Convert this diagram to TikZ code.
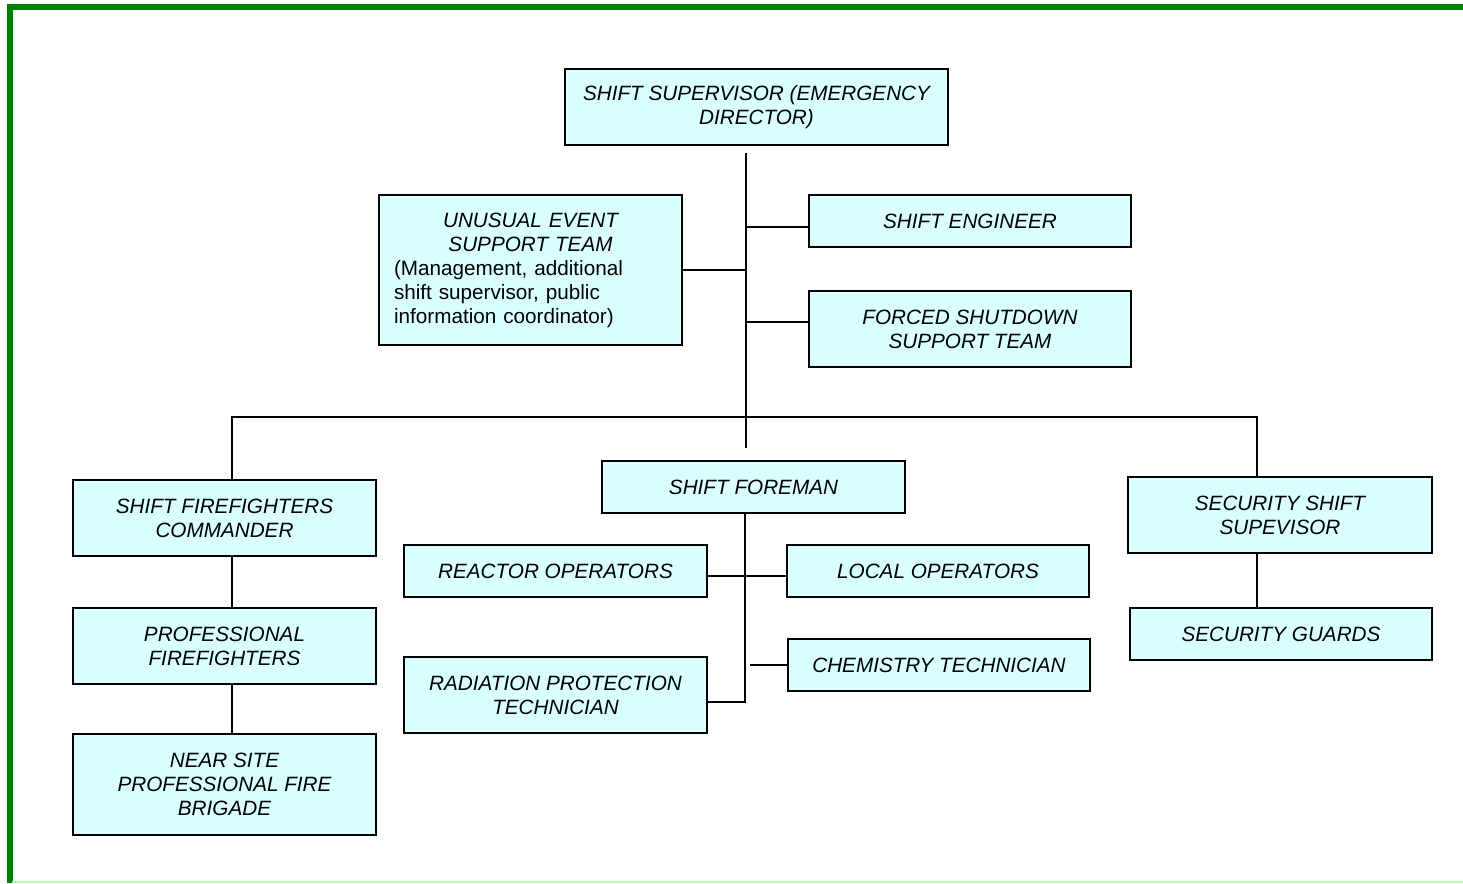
\documentclass[tikz,border=0pt]{standalone}
\usepackage{fontspec}
\setmainfont{Liberation Sans}

\definecolor{boxfill}{RGB}{217,255,255}
\definecolor{framegreen}{RGB}{0,128,0}

\tikzset{
  orgbox/.style={draw,line width=2.8pt,fill=boxfill,inner sep=0pt,align=center,
    font=\itshape\fontsize{20.7}{24}\selectfont},
  link/.style={line width=2pt}
}

\begin{document}
\begin{tikzpicture}[x=1pt,y=-1pt]
\useasboundingbox (0,0) rectangle (1463,883);
\draw[framegreen,line width=6pt] (9.5,883) -- (9.5,7) -- (1463,7);
\draw[green!30!white,line width=1.5pt] (12,882) -- (1463,882);

\node[orgbox,minimum width=383pt,minimum height=76pt] (sup) at (756.5,107) {SHIFT SUPERVISOR (EMERGENCY\\DIRECTOR)};
\node[orgbox,minimum width=303pt,minimum height=150pt,text width=273pt,align=left] (ues) at (530.5,270)
  {{\centering UNUSUAL EVENT\\SUPPORT TEAM\par}\upshape (Management, additional\\shift supervisor, public\\information coordinator)};
\node[orgbox,minimum width=322pt,minimum height=52pt] (eng) at (970,221) {SHIFT ENGINEER};
\node[orgbox,minimum width=322pt,minimum height=76pt] (fst) at (970,329) {FORCED SHUTDOWN\\SUPPORT TEAM};

\node[orgbox,minimum width=303pt,minimum height=76pt] (cmd) at (224.5,518) {SHIFT FIREFIGHTERS\\COMMANDER};
\node[orgbox,minimum width=303pt,minimum height=76pt] (pff) at (224.5,646) {PROFESSIONAL\\FIREFIGHTERS};
\node[orgbox,minimum width=303pt,minimum height=101pt] (nsb) at (224.5,784.5) {NEAR SITE\\PROFESSIONAL FIRE\\BRIGADE};

\node[orgbox,minimum width=303pt,minimum height=52pt] (fmn) at (753.5,487) {SHIFT FOREMAN};
\node[orgbox,minimum width=303pt,minimum height=52pt] (rop) at (555.5,571) {REACTOR OPERATORS};
\node[orgbox,minimum width=302pt,minimum height=52pt] (lop) at (938,571) {LOCAL OPERATORS};
\node[orgbox,minimum width=303pt,minimum height=76pt] (rpt) at (555.5,695) {RADIATION PROTECTION\\TECHNICIAN};
\node[orgbox,minimum width=302pt,minimum height=52pt] (cht) at (939,665) {CHEMISTRY TECHNICIAN};

\node[orgbox,minimum width=304pt,minimum height=76pt] (ssv) at (1280,515) {SECURITY SHIFT\\SUPEVISOR};
\node[orgbox,minimum width=302pt,minimum height=52pt] (sgd) at (1281,634) {SECURITY GUARDS};

% main spine
\coordinate (spineT) at (746,153);
\coordinate (spineB) at (746,448);
\draw[link] (spineT) -- (spineB);
\coordinate (engin) at ([yshift=-6pt]eng.west);
\coordinate (fstin) at ([yshift=7pt]fst.west);
\draw[link] (engin) -- (engin -| spineT);
\draw[link] (ues.east) -- (ues.east -| spineT);
\draw[link] (fstin) -- (fstin -| spineT);

% bus to firefighters and security
\coordinate (busL) at (232,417);
\coordinate (busR) at (1257,417);
\draw[link] (busL |- cmd.north) -- (busL) -- (busR) -- (busR |- ssv.north);
\draw[link] (busL |- cmd.south) -- (busL |- pff.north);
\draw[link] (busL |- pff.south) -- (busL |- nsb.north);
\draw[link] (busR |- ssv.south) -- (busR |- sgd.north);

% foreman group
\coordinate (fmx) at (745,0);
\coordinate (chx) at (750,0);
\coordinate (rptin) at ([yshift=-7pt]rpt.east);
\draw[link] (fmx |- fmn.south) -- (fmx |- rptin) -- (rptin);
\draw[link] ([yshift=-5pt]rop.east) -- ([yshift=-5pt]lop.west);
\draw[link] (cht.west) -- (cht.west -| chx);
\end{tikzpicture}
\end{document}
